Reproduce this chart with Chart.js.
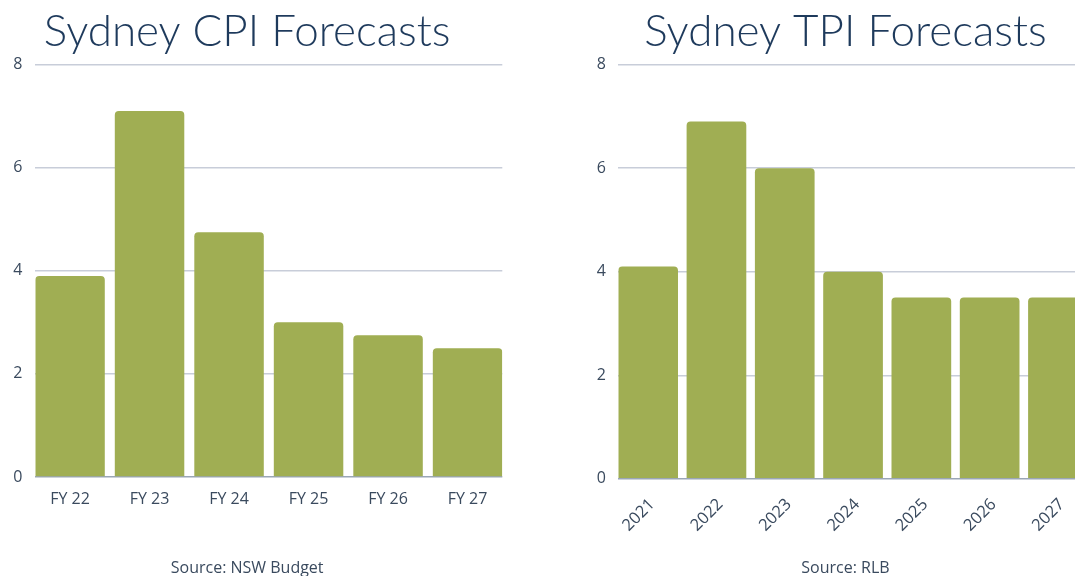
<!DOCTYPE html>
<html>
<head>
<meta charset="utf-8">
<title>Sydney CPI / TPI Forecasts</title>
<script src="https://cdn.jsdelivr.net/npm/chart.js@4.4.1/dist/chart.umd.min.js"></script>
<style>
    html, body { margin: 0; padding: 0; background: #fff; overflow: hidden; width: 1075px; height: 576px; }
    .wrap { position: absolute; top: 0; }
    #cpiWrap { left: -8px; }
    #tpiWrap { left: 560px; }
    canvas { display: block; }
</style>
</head>
<body>
<div class="wrap" id="cpiWrap"><canvas id="cpiChart" width="528" height="580"></canvas></div>
<div class="wrap" id="tpiWrap"><canvas id="tpiChart" width="540" height="580"></canvas></div>

<script>
// ============================
// DATA
// ============================
const cpiLabels = ["FY 22", "FY 23", "FY 24", "FY 25", "FY 26", "FY 27"];
const cpiValues = [3.9, 7.1, 4.75, 3.0, 2.75, 2.5];

const tpiLabels = ["2021", "2022", "2023", "2024", "2025", "2026", "2027"];
const tpiValues = [4.1, 6.9, 6.0, 4.0, 3.5, 3.5, 3.5];

const yTicks = [0, 2, 4, 6, 8];

// ============================
// STYLE
// ============================
const barColor = "#a0ae53";
const titleColor = "#1e3a5c";
const labelColor = "#3a4a5e";
const gridColor = "#c8cdd9";
const zeroColor = "#9aa6b6";
const barRatio = 0.874;

function makeChart(id, cfg) {
    const labels = cfg.labels;

    return new Chart(document.getElementById(id), {
        type: "bar",
        data: {
            datasets: [{
                data: cfg.values.map((y, i) => ({ x: i, y: y })),
                backgroundColor: barColor,
                borderRadius: 4,
                barPercentage: barRatio,
                categoryPercentage: 1
            }]
        },
        options: {
            responsive: false,
            animation: false,
            layout: { padding: { left: cfg.padLeft, right: cfg.padRight, top: 0, bottom: 0 } },
            plugins: {
                legend: { display: false },
                tooltip: { enabled: false },
                title: {
                    display: true,
                    text: cfg.title,
                    color: titleColor,
                    font: { family: "Lato", size: 44, weight: 300 },
                    padding: { top: 5.5, bottom: 6.3 }
                },
                subtitle: {
                    display: true,
                    position: "bottom",
                    text: cfg.source,
                    color: labelColor,
                    font: { family: "Open Sans", size: 16 },
                    padding: { top: cfg.sourceGap, bottom: 1.5 }
                }
            },
            scales: {
                x: {
                    type: "linear",
                    min: -barRatio / 2,
                    max: labels.length - 1 + barRatio / 2,
                    offset: false,
                    grid: { display: false },
                    border: { display: false },
                    ticks: {
                        stepSize: 1,
                        includeBounds: false,
                        autoSkip: false,
                        minRotation: cfg.rotation,
                        maxRotation: cfg.rotation,
                        padding: cfg.xPad,
                        labelOffset: cfg.xShift,
                        color: labelColor,
                        font: { family: "Open Sans", size: cfg.xFont },
                        callback: v => labels[v] ?? ""
                    },
                    afterFit: s => { s.height = cfg.xHeight; }
                },
                y: {
                    min: 0,
                    max: 8,
                    border: { display: false },
                    grid: {
                        drawTicks: false,
                        lineWidth: 1.5,
                        color: c => (c.tick && c.tick.value === 0) ? zeroColor : gridColor
                    },
                    afterBuildTicks: s => { s.ticks = yTicks.map(v => ({ value: v })); },
                    ticks: {
                        mirror: cfg.yMirror,
                        padding: cfg.yPad,
                        color: labelColor,
                        font: { family: "Open Sans", size: 16 }
                    },
                    afterFit: s => { s.width = cfg.yWidth; }
                }
            }
        }
    });
}

// Left chart
makeChart("cpiChart", {
    labels: cpiLabels,
    values: cpiValues,
    title: "Sydney CPI Forecasts",
    source: "Source: NSW Budget",
    padLeft: 0,
    padRight: 17.7,
    yWidth: 43.3,
    yMirror: false,
    yPad: 13,
    xHeight: 40,
    xPad: 5,
    xShift: 0,
    xFont: 16,
    rotation: 0,
    sourceGap: 42.3
});

// Right chart (label column sits inside the padding, so mirror the ticks back out)
makeChart("tpiChart", {
    labels: tpiLabels,
    values: tpiValues,
    title: "Sydney TPI Forecasts",
    source: "Source: RLB",
    padLeft: 43.2,
    padRight: 12.2,
    yWidth: 15.1,
    yMirror: true,
    yPad: -21.5,
    xHeight: 60,
    xPad: 8,
    xShift: 4,
    xFont: 16.5,
    rotation: 45,
    sourceGap: 20.5
});
</script>
</body>
</html>
